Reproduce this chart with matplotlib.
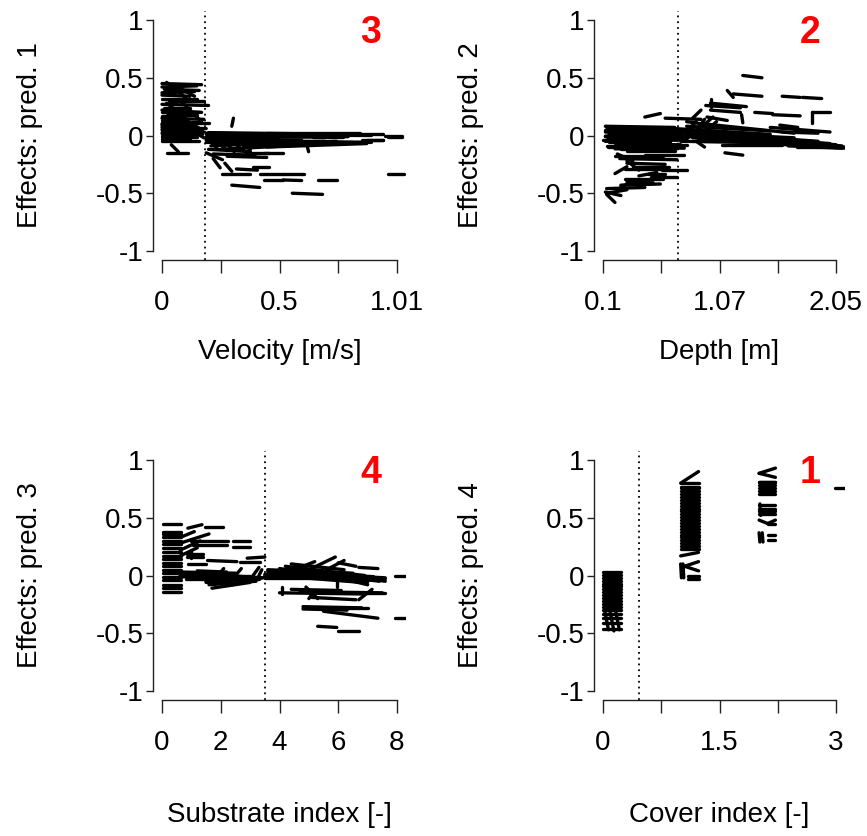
import numpy as np
import matplotlib
matplotlib.use("Agg")
import matplotlib.pyplot as plt
from matplotlib.collections import LineCollection

plt.rcParams['font.family'] = ['Liberation Sans', 'DejaVu Sans']

# ---------------- data ----------------
# Panel 1: Velocity [m/s]
p1_x0 = [0.00, 0.00, 0.01, 0.00, 0.02, 0.05, 0.00, 0.03, 0.00, 0.01, 0.00, 0.02, 0.00, 0.00, 0.00, 0.00,
         0.00, 0.00, 0.00, 0.00, 0.05, 0.08, 0.02, 0.10, 0.00, 0.00, 0.00, 0.00, 0.00, 0.00, 0.04, 0.02,
         0.19, 0.20, 0.19, 0.20, 0.22, 0.25, 0.30, 0.45, 0.62, 0.85, 0.96, 0.97, 0.25, 0.27, 0.35, 0.88,
         0.62, 0.20, 0.23, 0.27, 0.30, 0.33, 0.20, 0.22, 0.28, 0.36, 0.19, 0.22, 0.27, 0.300, 0.26, 0.42,
         0.52, 0.97, 0.39, 0.32, 0.44, 0.52, 0.67, 0.30, 0.56, 0.44, 0.65, 0.86, 0.45, 0.60,
         0.00, 0.00, 0.00, 0.00, 0.00, 0.19, 0.19, 0.19, 0.19, 0.20, 0.30, 0.21, 0.24]
p1_x1 = [0.17, 0.15, 0.16, 0.14, 0.10, 0.14, 0.12, 0.18, 0.20, 0.12, 0.17, 0.15, 0.18, 0.16, 0.14, 0.19,
         0.17, 0.16, 0.15, 0.12, 0.17, 0.17, 0.10, 0.18, 0.09, 0.10, 0.13, 0.11, 0.18, 0.13, 0.07, 0.11,
         0.55, 0.65, 0.50, 0.60, 0.70, 0.80, 0.75, 0.85, 0.82, 0.95, 1.03, 1.03, 0.82, 0.75, 0.85, 0.95,
         0.63, 0.24, 0.28, 0.31, 0.35, 0.38, 0.38, 0.40, 0.45, 0.46, 0.26, 0.25, 0.30, 0.307, 0.38, 0.52,
         0.61, 1.04, 0.46, 0.41, 0.52, 0.60, 0.75, 0.42, 0.69, 0.52, 0.78, 0.95, 0.88, 0.90,
         0.16, 0.20, 0.17, 0.16, 0.15, 0.45, 0.40, 0.50, 0.55, 0.60, 0.90, 0.42, 0.48]
p1_y0 = [0.45, 0.42, 0.40, 0.37, 0.46, 0.44, 0.35, 0.30, 0.27, 0.24, 0.22, 0.18, 0.15, 0.12, 0.10, 0.07,
         0.04, 0.02, -0.01, -0.03, 0.20, 0.30, 0.28, 0.08, 0.13, 0.17, 0.06, 0.00, 0.05, 0.09, -0.08, -0.15,
         0.02, 0.00, -0.03, -0.05, -0.07, -0.02, 0.01, 0.02, 0.015, 0.01, 0.00, -0.01, -0.12, -0.08, -0.10, -0.04,
         -0.06, -0.03, -0.04, -0.05, -0.05, -0.05, -0.12, -0.16, -0.18, -0.15, -0.15, -0.20, -0.24, 0.08, -0.33, -0.33,
         -0.33, -0.33, -0.27, -0.29, -0.385, -0.385, -0.385, -0.43, -0.50, -0.15, -0.01, -0.04, -0.10, -0.05,
         0.20, 0.11, 0.015, -0.045, 0.32, 0.01, -0.015, -0.04, -0.06, 0.025, 0.005, -0.09, -0.07]
p1_y1 = [0.44, 0.43, 0.39, 0.38, 0.33, 0.34, 0.34, 0.30, 0.26, 0.24, 0.20, 0.18, 0.14, 0.12, 0.09, 0.06,
         0.04, 0.01, -0.01, -0.03, 0.05, 0.12, 0.16, -0.02, 0.13, 0.17, 0.06, 0.00, 0.03, 0.08, -0.14, -0.15,
         0.01, -0.01, -0.02, -0.04, -0.05, -0.01, 0.01, 0.02, 0.015, 0.01, 0.00, -0.01, -0.06, -0.05, -0.06, -0.04,
         -0.14, -0.12, -0.13, -0.14, -0.13, -0.12, -0.14, -0.17, -0.19, -0.15, -0.21, -0.28, -0.31, 0.15, -0.33, -0.33,
         -0.33, -0.33, -0.27, -0.30, -0.385, -0.39, -0.385, -0.45, -0.51, -0.15, -0.01, -0.04, -0.07, -0.06,
         0.20, 0.11, 0.015, -0.045, 0.32, 0.00, -0.02, -0.03, -0.05, 0.015, 0.00, -0.07, -0.06]

# Panel 2: Depth [m]
p2_x0 = [0.13, 0.20, 0.12, 0.15, 0.12, 0.18, 0.12, 0.20, 0.14, 0.25, 0.30, 0.12, 0.40, 0.10, 0.35,
         0.70, 0.75, 0.80, 0.85, 0.90, 1.00, 0.75, 1.20, 1.40, 0.95, 0.80, 1.50, 1.58, 1.60, 1.72, 1.80, 1.10,
         0.78, 0.85, 0.90, 0.95, 0.80, 0.88,
         0.62, 0.45, 0.85, 1.00, 0.96, 1.00, 1.00, 1.27, 1.14, 1.19, 1.60, 1.77, 1.37, 1.52, 1.85, 1.85, 1.26,
         1.12, 0.97,
         0.24, 0.30, 0.35, 0.59, 0.48, 0.28, 0.30, 0.25, 0.13, 0.12, 0.13, 0.13, 0.20, 0.22, 0.30, 0.40, 0.25,
         0.12, 0.15, 0.13, 0.16, 0.12, 0.14, 0.18, 0.15, 0.22, 0.13, 0.20,
         0.70, 0.72, 0.80, 0.85, 0.90, 1.00, 1.10, 1.20, 1.30, 1.45, 1.55, 1.65,
         0.30, 0.45, 0.20, 0.28, 0.50]
p2_x1 = [0.55, 0.70, 0.60, 0.75, 0.50, 0.78, 0.65, 0.80, 0.45, 0.70, 0.85, 0.40, 0.90, 0.30, 0.78,
         1.40, 1.60, 1.50, 1.80, 2.00, 2.10, 1.30, 1.90, 2.12, 1.70, 1.20, 2.00, 1.73, 1.90, 2.12, 2.05, 1.60,
         0.88, 0.95, 1.02, 1.05, 0.90, 0.95,
         0.92, 0.58, 0.92, 1.30, 1.25, 1.00, 1.25, 1.43, 1.19, 1.43, 1.75, 1.93, 1.52, 1.75, 2.00, 1.85, 1.27,
         1.27, 1.14,
         0.72, 0.62, 0.65, 0.80, 0.62, 0.60, 0.52, 0.58, 0.45, 0.25, 0.20, 0.30, 0.30, 0.35, 0.40, 0.55, 0.40,
         0.70, 0.80, 0.62, 0.76, 0.68, 0.80, 0.72, 0.66, 0.75, 0.58, 0.70,
         1.50, 1.70, 1.85, 1.60, 2.05, 1.95, 2.10, 1.80, 2.15, 2.00, 2.05, 2.10,
         0.70, 0.78, 0.60, 0.62, 0.72]
p2_y0 = [0.07, 0.05, 0.03, 0.01, -0.01, -0.03, -0.05, -0.08, -0.10, -0.12, 0.00, 0.05, -0.02, -0.04, -0.10,
         0.00, 0.05, 0.08, -0.02, -0.03, 0.02, -0.05, 0.00, -0.06, 0.10, 0.12, 0.07, 0.09, 0.03, -0.10, -0.08, -0.08,
         0.02, 0.00, 0.05, 0.03, -0.03, -0.05,
         0.15, 0.16, 0.15, 0.28, 0.26, 0.32, 0.22, 0.52, 0.39, 0.36, 0.34, 0.33, 0.20, 0.18, 0.20, 0.20, 0.18,
         -0.15, 0.16,
         -0.20, -0.24, -0.27, -0.30, -0.33, -0.38, -0.40, -0.43, -0.46, -0.49, -0.51, -0.50, -0.33, -0.16, -0.22, -0.35, -0.44,
         0.08, 0.055, 0.04, 0.015, -0.005, -0.02, -0.035, -0.06, -0.075, -0.09, -0.115,
         0.06, 0.03, 0.01, -0.01, 0.00, 0.04, -0.02, -0.04, -0.06, -0.03, -0.07, -0.09,
         -0.13, -0.17, -0.18, -0.29, -0.36]
p2_y1 = [0.06, 0.03, 0.02, -0.01, -0.02, -0.04, -0.06, -0.08, -0.10, -0.12, 0.00, 0.05, 0.00, -0.04, -0.11,
         0.00, -0.04, 0.04, -0.06, -0.09, -0.10, -0.06, -0.05, -0.10, 0.02, 0.06, 0.03, 0.07, 0.02, -0.10, -0.08, -0.08,
         0.12, 0.14, 0.16, 0.12, 0.06, -0.10,
         0.14, 0.19, 0.22, 0.25, 0.24, 0.25, 0.20, 0.50, 0.33, 0.34, 0.33, 0.32, 0.19, 0.17, 0.20, 0.11, 0.11,
         -0.17, 0.13,
         -0.21, -0.25, -0.27, -0.30, -0.33, -0.38, -0.41, -0.42, -0.45, -0.52, -0.58, -0.47, -0.27, -0.22, -0.30, -0.32, -0.39,
         0.07, 0.05, 0.035, 0.01, -0.01, -0.025, -0.04, -0.06, -0.08, -0.09, -0.12,
         0.01, -0.02, -0.05, -0.04, -0.08, -0.07, -0.09, -0.08, -0.11, -0.07, -0.10, -0.11,
         -0.13, -0.17, -0.18, -0.29, -0.36]

# Panel 3: Substrate index [-]
p3_x0 = [0.04] * 19 + [
    0.88, 1.46, 0.62, 0.62, 0.62, 1.00, 1.05, 2.40, 2.40, 0.85, 0.85, 1.00, 1.55, 2.90, 2.65, 0.90, 0.62,
    0.60, 0.60, 0.60, 0.65, 0.80, 1.50, 1.60, 1.70, 1.50, 1.20, 2.50, 3.10, 3.30, 1.90,
    3.50, 3.50, 3.60, 3.80, 3.60, 4.00, 4.20, 4.50, 4.40, 5.00, 5.50, 4.80, 3.50, 4.00, 5.00, 5.60, 6.70, 6.00,
    7.93, 5.95,
    4.00, 4.70, 4.10, 4.40, 5.10, 4.90, 5.00, 6.70, 6.80, 4.80, 4.80, 5.50, 6.30, 7.93, 5.30, 6.00,
    0.60, 3.50, 3.60, 4.50, 5.20]
p3_x1 = [0.63] * 19 + [
    1.36, 2.08, 1.60, 1.30, 1.10, 2.25, 2.20, 3.00, 3.00, 1.40, 1.40, 1.00, 2.55, 3.50, 3.35, 1.50, 1.20,
    3.50, 3.40, 3.00, 2.50, 3.30, 3.40, 3.20, 3.00, 2.40, 2.20, 2.70, 3.30, 3.40, 2.10,
    7.50, 7.20, 7.00, 7.60, 6.50, 7.40, 6.90, 7.00, 6.20, 7.30, 7.60, 6.80, 4.60, 5.20, 5.90, 6.20, 7.35, 6.60,
    8.27, 5.95,
    6.80, 7.50, 4.10, 6.10, 6.60, 5.30, 5.20, 7.15, 7.60, 6.80, 6.30, 7.35, 7.00, 8.27, 5.95, 6.70,
    2.80, 6.80, 7.20, 7.50, 7.60]
p3_y0 = [0.45, 0.38, 0.36, 0.33, 0.30, 0.27, 0.24, 0.20, 0.17, 0.14, 0.11, 0.08, 0.05, 0.02, -0.01, -0.04,
         -0.08, -0.11, -0.14,
         0.41, 0.42, 0.28, 0.22, 0.33, 0.30, 0.26, 0.30, 0.25, 0.19, 0.16, 0.22, 0.13, 0.15, 0.12, 0.10, 0.17,
         0.02, -0.01, 0.00, 0.03, -0.03, -0.06, -0.08, -0.11, -0.05, 0.04, 0.00, 0.00, 0.00, 0.00,
         -0.02, 0.00, 0.02, 0.03, 0.05, 0.06, 0.08, 0.07, 0.10, 0.05, 0.03, -0.02, -0.02, 0.00, 0.05, 0.05, 0.07, 0.11,
         0.00, -0.04,
         -0.15, -0.14, -0.10, -0.12, -0.19, -0.10, -0.20, -0.21, -0.15, -0.27, -0.29, -0.31, -0.28, -0.37, -0.44, -0.48,
         0.015, 0.01, 0.04, 0.02, 0.00]
p3_y1 = [0.45, 0.38, 0.36, 0.33, 0.30, 0.27, 0.24, 0.20, 0.17, 0.14, 0.11, 0.08, 0.05, 0.02, -0.01, -0.04,
         -0.08, -0.11, -0.14,
         0.44, 0.42, 0.36, 0.30, 0.38, 0.30, 0.26, 0.30, 0.25, 0.19, 0.16, 0.15, 0.12, 0.16, 0.12, 0.10, 0.24,
         -0.02, -0.02, 0.00, 0.02, -0.03, -0.02, -0.05, -0.06, -0.08, 0.03, 0.06, 0.07, 0.05, 0.06,
         -0.02, -0.04, -0.06, -0.02, 0.02, -0.05, 0.00, -0.08, 0.05, -0.03, -0.05, -0.06, 0.08, 0.12, 0.16, 0.13, 0.06, 0.08,
         0.00, -0.10,
         -0.16, -0.15, -0.16, -0.13, -0.21, -0.20, -0.13, -0.12, -0.15, -0.28, -0.30, -0.37, -0.28, -0.37, -0.45, -0.48,
         -0.01, -0.03, -0.01, -0.04, -0.03]

# Panel 4: Cover index [-]
p4_x0 = [0.00] * 18 + [0.02, 0.09, 0.16] + [1.00] * 24 + [1.00, 1.00] + [1.05, 1.05, 1.10, 1.10, 1.00, 1.03] + \
        [2.01] * 12 + [2.02, 2.01, 2.12, 2.12, 2.01, 2.05, 2.12, 2.12, 2.99]
p4_x1 = [0.23] * 18 + [0.07, 0.14, 0.21] + [1.23] * 24 + [1.23, 1.23] + [1.23, 1.23, 1.23, 1.23, 1.01, 1.04] + \
        [2.22] * 12 + [2.03, 2.12, 2.22, 2.22, 2.02, 2.06, 2.22, 2.22, 3.12]
p4_y0 = [0.03, 0.005, -0.02, -0.045, -0.07, -0.095, -0.12, -0.145, -0.17, -0.195, -0.22, -0.245, -0.27,
         -0.30, -0.33, -0.37, -0.41, -0.46,
         -0.30, -0.31, -0.30,
         0.77, 0.755, 0.73, 0.705, 0.68, 0.655, 0.63, 0.605, 0.58, 0.555, 0.53, 0.505, 0.48, 0.455, 0.43, 0.405,
         0.38, 0.355, 0.33, 0.305, 0.28, 0.255, 0.23, 0.17,
         0.80, 0.80,
         0.08, 0.08, 0.00, -0.03, 0.10, 0.10,
         0.885, 0.885, 0.81, 0.81, 0.785, 0.76, 0.735, 0.71, 0.61, 0.58, 0.555, 0.53,
         0.62, 0.48, 0.45, 0.45, 0.37, 0.37, 0.35, 0.31, 0.76]
p4_y1 = [0.03, 0.005, -0.02, -0.045, -0.07, -0.095, -0.12, -0.145, -0.17, -0.195, -0.22, -0.245, -0.27,
         -0.30, -0.33, -0.37, -0.41, -0.46,
         -0.47, -0.48, -0.47,
         0.77, 0.755, 0.73, 0.705, 0.68, 0.655, 0.63, 0.605, 0.58, 0.555, 0.53, 0.505, 0.48, 0.455, 0.43, 0.405,
         0.38, 0.355, 0.33, 0.305, 0.28, 0.255, 0.23, 0.20,
         0.90, 0.80,
         0.12, 0.04, 0.00, -0.03, -0.02, -0.02,
         0.93, 0.85, 0.81, 0.81, 0.785, 0.76, 0.735, 0.71, 0.61, 0.58, 0.555, 0.53,
         0.52, 0.45, 0.48, 0.45, 0.29, 0.29, 0.35, 0.31, 0.76]

x_ranges = [(0.0, 1.01), (0.1, 2.05), (0.0, 8.0), (0.0, 3.0)]
x_ticklabels = [["0", "", "0.5", "", "1.01"],
                ["0.1", "", "1.07", "", "2.05"],
                ["0", "2", "4", "6", "8"],
                ["0", "", "1.5", "", "3"]]
y_ticks = [-1, -0.5, 0, 0.5, 1]
y_ticklabels = ["-1", "-0.5", "0", "0.5", "1"]
thresholds = [0.185, 0.73, 3.5, 0.46]
x_labels = ["Velocity [m/s]", "Depth [m]", "Substrate index [-]", "Cover index [-]"]
y_labels = ["Effects: pred. 1", "Effects: pred. 2", "Effects: pred. 3", "Effects: pred. 4"]
ranks = ["3", "2", "4", "1"]

segments = [(p1_x0, p1_x1, p1_y0, p1_y1), (p2_x0, p2_x1, p2_y0, p2_y1),
            (p3_x0, p3_x1, p3_y0, p3_y1), (p4_x0, p4_x1, p4_y0, p4_y1)]

# ---------------- layout ----------------
W, H = 867, 836
fig = plt.figure(figsize=(W / 100, H / 100), dpi=100)

# plot regions in pixels (left, top, right, bottom)
regions = [(152.6, 10.8, 406.4, 260.2), (593.7, 10.8, 845.3, 260.2),
           (152.6, 450.8, 406.4, 700.2), (593.7, 450.8, 845.3, 700.2)]
xlabel_y = [352, 352, 815, 815]

for i in range(4):
    l, t, r, b = regions[i]
    ax = fig.add_axes([l / W, 1 - b / H, (r - l) / W, (b - t) / H])
    xmin, xmax = x_ranges[i]
    pad = 0.04 * (xmax - xmin)
    ax.set_xlim(xmin - pad, xmax + pad)
    ax.set_ylim(-1.08, 1.08)

    x0, x1, y0, y1 = [np.asarray(a, float) for a in segments[i]]
    segs = np.stack([np.column_stack([x0, y0]), np.column_stack([x1, y1])], axis=1)
    lc = LineCollection(segs, colors="black", linewidths=2.4, capstyle="round")
    ax.add_collection(lc)

    ax.axvline(thresholds[i], color="black", lw=1.3, linestyle=(0, (1, 2.2)))

    for s in ["top", "right"]:
        ax.spines[s].set_visible(False)
    ax.spines["left"].set_bounds(-1, 1)
    ax.spines["bottom"].set_bounds(xmin, xmax)
    for s in ["left", "bottom"]:
        ax.spines[s].set_linewidth(1.0)
        ax.spines[s].set_color("#222222")

    ax.set_xticks(np.linspace(xmin, xmax, 5))
    ax.set_xticklabels(x_ticklabels[i])
    ax.set_yticks(y_ticks)
    ax.set_yticklabels(y_ticklabels)
    ax.tick_params(axis="x", direction="out", length=9.4, width=1.0, color="#222222",
                   labelsize=20, pad=12)
    ax.tick_params(axis="y", direction="out", length=5, width=1.0, color="#222222",
                   labelsize=20, pad=1.5)

    ax.text(0.86, 0.91, ranks[i], transform=ax.transAxes, color="#ff0000",
            fontsize=27, fontweight="bold", ha="center", va="center")

    cx = ((l + r) / 2) / W
    fig.text(cx, 1 - xlabel_y[i] / H, x_labels[i], ha="center", va="center", fontsize=20)
    ylab_x = (30 if i % 2 == 0 else 471) / W
    fig.text(ylab_x, 1 - ((t + b) / 2) / H, y_labels[i], rotation=90,
             ha="center", va="center", fontsize=20)

fig.savefig("out.png", dpi=100)
